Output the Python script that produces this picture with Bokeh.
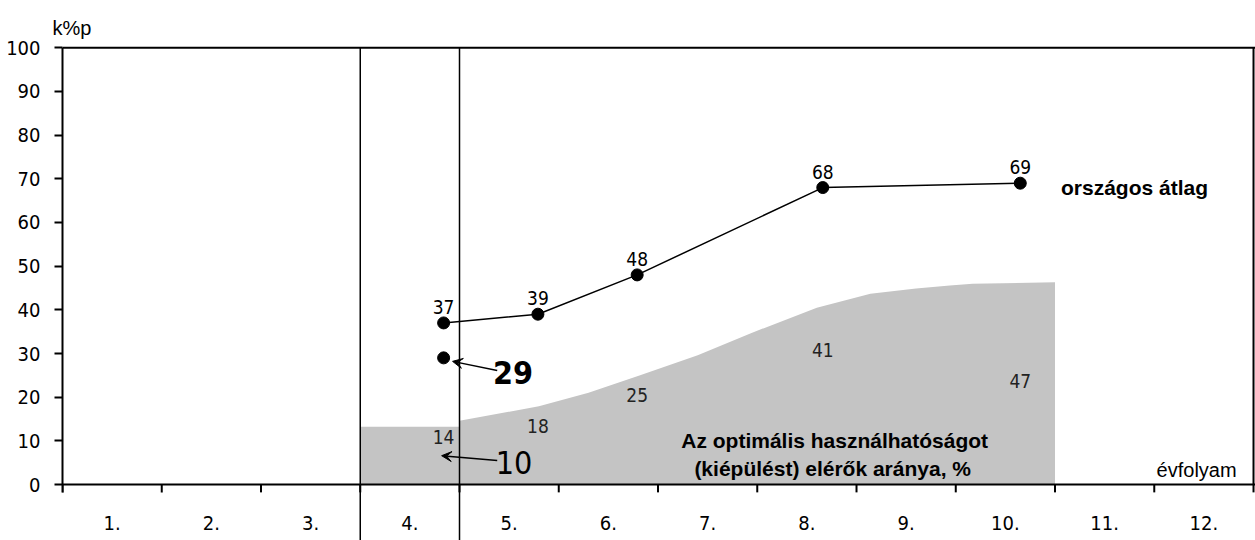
from bokeh.plotting import figure
from bokeh.models import Range1d, FixedTicker, Arrow, VeeHead, ColumnDataSource, Title
from bokeh.core.properties import value
from bokeh.embed import file_html
from bokeh.resources import INLINE

# ---- data ----
grades = ["1.", "2.", "3.", "4.", "5.", "6.", "7.", "8.", "9.", "10.", "11.", "12."]
y_ticks = [0, 10, 20, 30, 40, 50, 60, 70, 80, 90, 100]

avg_x = [3.84, 4.79, 5.79, 7.66, 9.65]          # measurement points (grade 4,5,6,8,10)
avg_values = [37, 39, 48, 68, 69]               # országos átlag

area_x = [3.0, 4.0, 4.0, 4.8, 5.3, 5.82, 6.4, 6.93, 7.6, 8.14, 8.6, 8.94, 9.17, 10.0]
area_y = [13.2, 13.2, 14.6, 17.9, 21.0, 25.0, 29.6, 34.6, 40.5, 43.7, 44.9, 45.6, 46.0, 46.3]
area_labels = ["14", "18", "25", "41", "47"]
area_label_y = [10.8, 13.5, 20.4, 30.9, 23.8]

extra_value = 29       # single point at grade 4
extra_value_2 = 10     # arrow annotation value

NUM = "DejaVu Sans Condensed"
SANS = "Liberation Sans"

XMAX = 12.02
p = figure(width=1255, height=540, output_backend="svg", toolbar_location=None,
           x_range=Range1d(0, XMAX), y_range=Range1d(-12.82, 100.53),
           x_axis_location=None, min_border_left=62, min_border_right=0,
           min_border_top=45, min_border_bottom=0)
p.grid.visible = False
p.outline_line_color = None
p.background_fill_color = "white"

p.add_layout(Title(text="k%p", align="left", offset=-10, standoff=14,
                   text_font=SANS, text_font_size="20px", text_font_style="normal",
                   text_color="black"), "above")

yax = p.yaxis[0]
yax.ticker = FixedTicker(ticks=y_ticks)
yax.bounds = (-1.8, 100)
yax.axis_line_color = "black"
yax.axis_line_width = 2
yax.major_tick_out = 8
yax.major_tick_in = 0
yax.major_tick_line_width = 2
yax.minor_tick_out = 0
yax.minor_tick_in = 0
yax.major_label_standoff = 14
yax.major_label_text_font = NUM
yax.major_label_text_font_size = "20px"
yax.major_label_text_color = "black"

# gray area
p.varea(x=area_x, y1=[0] * len(area_x), y2=area_y, fill_color="#c4c4c4")

# frame lines
p.segment(x0=[0, 12], y0=[100, 0], x1=[XMAX, 12], y1=[100, 100],
          line_color="black", line_width=2)
# x axis
p.segment(x0=[0], y0=[0], x1=[XMAX], y1=[0], line_color="black", line_width=2)
tick_x = list(range(0, len(grades) + 1))
p.segment(x0=tick_x, y0=[0] * len(tick_x), x1=tick_x, y1=[-1.8] * len(tick_x),
          line_color="black", line_width=2)
# vertical separators (grade 3|4 and 4|5)
p.segment(x0=[3, 4], y0=[100, 100], x1=[3, 4], y1=[-13, -13], line_color="black", line_width=1.5)

# x tick labels
p.text(x=[i + 0.5 for i in range(len(grades))], y=[-8.7] * len(grades), text=grades,
       text_align="center", text_baseline="middle", text_font=value(NUM),
       text_font_size="20px", text_color="black")

# országos átlag line
src = ColumnDataSource(dict(x=avg_x, y=avg_values, t=[str(v) for v in avg_values]))
p.line("x", "y", source=src, line_color="black", line_width=1.5)
p.scatter("x", "y", source=src, size=12, fill_color="black", line_color="black")
p.text("x", "y", text="t", source=src, y_offset=-16, text_align="center",
       text_baseline="middle", text_font=value(NUM), text_font_size="19px",
       text_color="black")

# extra point 29
p.scatter([avg_x[0]], [extra_value], size=12, fill_color="black", line_color="black")

# area labels
p.text(x=avg_x, y=area_label_y, text=area_labels, text_align="center", text_baseline="middle",
       text_font=value(NUM), text_font_size="19px", text_color="#222222")

# big annotation numbers with arrows
p.text(x=[4.54], y=[25.6], text=[str(extra_value)], text_align="center", text_baseline="middle",
       text_font=value(NUM), text_font_size="32px", text_font_style="bold", text_color="black")
p.text(x=[4.55], y=[5.0], text=[str(extra_value_2)], text_align="center", text_baseline="middle",
       text_font=value(NUM), text_font_size="32px", text_color="black")
p.add_layout(Arrow(end=VeeHead(size=10, fill_color="black", line_color="black"),
                   x_start=4.38, y_start=26.1, x_end=3.93, y_end=28.2,
                   line_color="black", line_width=1.5))
p.add_layout(Arrow(end=VeeHead(size=10, fill_color="black", line_color="black"),
                   x_start=4.38, y_start=5.5, x_end=3.82, y_end=6.6,
                   line_color="black", line_width=1.5))

# texts
p.text(x=[7.78, 7.76], y=[10.1, 3.7],
       text=["Az optimális használhatóságot", "(kiépülést) elérők aránya, %"],
       text_align="center", text_baseline="middle", text_font=value(SANS),
       text_font_size="21px", text_font_style="bold", text_color="black")
p.text(x=[10.06], y=[68.0], text=["országos átlag"], text_align="left", text_baseline="middle",
       text_font=value(SANS), text_font_size="21px", text_font_style="bold", text_color="black")
p.text(x=[11.83], y=[3.4], text=["évfolyam"], text_align="right", text_baseline="middle",
       text_font=value(SANS), text_font_size="20px", text_color="black")

open("out.html", "w").write(file_html(p, INLINE))
